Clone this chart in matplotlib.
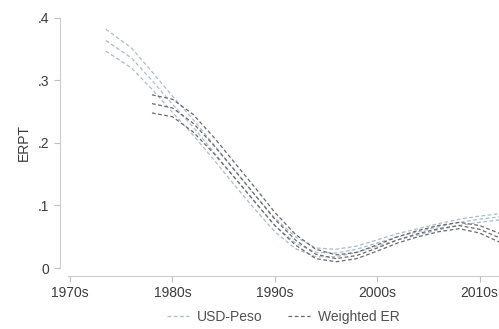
import matplotlib.pyplot as plt

## data
years_usd = [1973.5, 1976, 1978, 1980, 1982, 1984, 1986, 1988, 1990, 1992,
             1994, 1996, 1998, 2000, 2002, 2004, 2006, 2008, 2010, 2012]
usd_mid = [0.364, 0.336, 0.300, 0.262, 0.226, 0.186, 0.146, 0.106, 0.068, 0.040,
           0.025, 0.024, 0.030, 0.040, 0.050, 0.058, 0.066, 0.073, 0.078, 0.082]
usd_hi = [0.382, 0.352, 0.314, 0.275, 0.238, 0.198, 0.158, 0.118, 0.080, 0.050,
          0.032, 0.030, 0.035, 0.045, 0.055, 0.063, 0.071, 0.078, 0.083, 0.087]
usd_lo = [0.347, 0.320, 0.286, 0.249, 0.213, 0.174, 0.134, 0.095, 0.058, 0.031,
          0.018, 0.018, 0.025, 0.035, 0.045, 0.053, 0.061, 0.068, 0.073, 0.077]

years_wer = [1978, 1980, 1982, 1984, 1986, 1988, 1990, 1992, 1994, 1996,
             1998, 2000, 2002, 2004, 2006, 2008, 2010, 2012]
wer_mid = [0.263, 0.256, 0.232, 0.197, 0.158, 0.118, 0.078, 0.045, 0.022, 0.015,
           0.020, 0.032, 0.045, 0.055, 0.063, 0.068, 0.062, 0.048]
wer_hi = [0.277, 0.270, 0.246, 0.210, 0.170, 0.130, 0.089, 0.054, 0.030, 0.021,
          0.025, 0.037, 0.050, 0.060, 0.068, 0.073, 0.068, 0.055]
wer_lo = [0.248, 0.242, 0.218, 0.184, 0.146, 0.107, 0.068, 0.037, 0.015, 0.010,
          0.015, 0.027, 0.040, 0.050, 0.058, 0.063, 0.056, 0.041]

tick_years = [1970, 1980, 1990, 2000, 2010]
tick_labels = ["1970s", "1980s", "1990s", "2000s", "2010s"]
y_ticks = [0, 0.1, 0.2, 0.3, 0.4]
y_labels = ["0", ".1", ".2", ".3", ".4"]

plt.rcParams["font.family"] = ["Liberation Sans", "DejaVu Sans"]

light = "#a9bccf"
dark = "#6a6a6a"
txt = "#3c3c3c"

fig = plt.figure(figsize=(4.99, 3.29), dpi=100)
ax = fig.add_axes([0.1363, 0.1854, 0.8637, 0.760])

for vals in (usd_hi, usd_mid, usd_lo):
    ax.plot(years_usd, vals, color=light, lw=0.9, dashes=(3, 2))
for vals in (wer_hi, wer_mid, wer_lo):
    ax.plot(years_wer, vals, color=dark, lw=0.9, dashes=(3, 2))

ax.set_xlim(1969.8, 2011.9)
ax.set_ylim(0, 0.4)
ax.set_xticks(tick_years)
ax.set_xticklabels(tick_labels)
ax.set_yticks(y_ticks)
ax.set_yticklabels(y_labels)
ax.set_ylabel("ERPT", fontsize=10, color=txt, labelpad=5)

for side in ("top", "right"):
    ax.spines[side].set_visible(False)
for side in ("left", "bottom"):
    ax.spines[side].set_position(("outward", 6))
    ax.spines[side].set_color("#cccccc")
ax.tick_params(axis="both", colors="#c0c0c0", labelcolor=txt,
               labelsize=10, length=4, width=0.8)
ax.tick_params(axis="x", pad=3)

# legend below the axes
h1, = ax.plot([], [], color=light, lw=0.9, dashes=(3, 2))
h2, = ax.plot([], [], color=dark, lw=0.9, dashes=(3, 2))
fig.legend([h1, h2], ["USD-Peso", "Weighted ER"], loc="center",
           bbox_to_anchor=(0.568, 0.037), ncol=2, frameon=False,
           fontsize=10, handlelength=1.6, handletextpad=0.6,
           columnspacing=1.8, labelcolor="#505050")

fig.savefig("out.png", dpi=100)
